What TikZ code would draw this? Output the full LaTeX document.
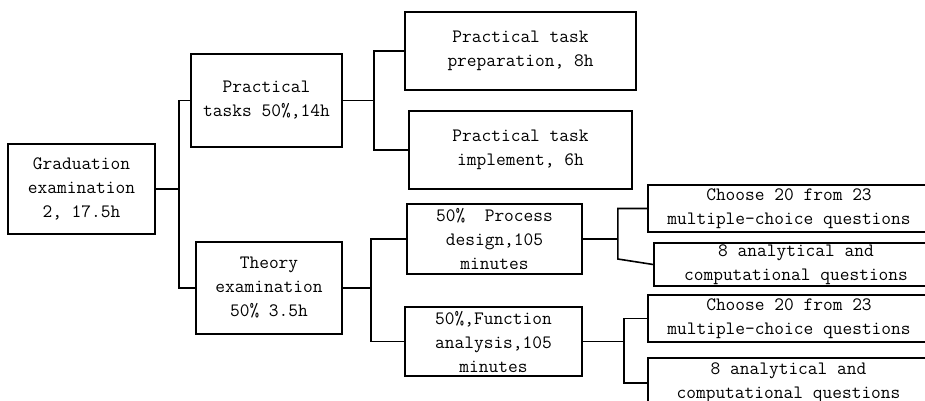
\documentclass[tikz,border=0pt]{standalone}
\usepackage{tikz}

\begin{document}
\begin{tikzpicture}[x=1pt, y=-1pt, line width=1.6pt,
  block/.style={draw, rectangle, align=center, inner sep=0pt, font=\ttfamily\fontsize{18.9}{24}\selectfont}]

\useasboundingbox (0,0) rectangle (925,400);

\node [block, minimum width=147pt, minimum height=90pt] (grad) at (81.5,189) {Graduation\\examination\\2, 17.5h};

\node [block, minimum width=151pt, minimum height=93pt] (prac) at (266.5,100.5) {Practical\\tasks 50\%,14h};

\node [block, minimum width=146pt, minimum height=92pt] (theory) at (269,288) {Theory\\examination\\50\% 3.5h};

\node [block, minimum width=231pt, minimum height=78pt] (prep) at (520.5,51) {Practical task\\preparation, 8h};

\node [block, minimum width=223pt, minimum height=78pt] (impl) at (520.5,150) {Practical task\\implement, 6h};

\node [block, minimum width=175pt, minimum height=70pt] (proc) at (494.5,239) {50\%~~Process\\design,105\\minutes};

\node [block, minimum width=177pt, minimum height=69pt] (func) at (493.5,341.5) {50\%,Function\\analysis,105\\minutes};

\node [block, minimum width=282pt, minimum height=47pt] (mc1) at (789,208.5) {Choose 20 from 23\\multiple-choice questions};

\node [block, minimum width=284pt, minimum height=43pt] (an1) at (796,264.5) {8 analytical and\\computational questions};

\node [block, minimum width=282pt, minimum height=47pt] (mc2) at (789,318.5) {Choose 20 from 23\\multiple-choice questions};

\node [block, minimum width=281pt, minimum height=50pt] (an2) at (788.5,383) {8 analytical and\\computational questions};

\draw (grad.east) -- ++(23,0) coordinate (fork1);
\draw (prac.west) -| (fork1) |- (theory.west);
\draw (prac.east) -- ++(31,0) coordinate (fork2);
\draw (prep.west) -| (fork2) |- (impl.west);
\draw (theory.east) -- ++(28,0) coordinate (fork3);
\draw (proc.west) -| (fork3) |- (func.west);
\draw (proc.east) -- ++(35,0) coordinate (fork4);
\draw (mc1.west) -| (fork4) -- ++(0,20) -- (an1.west);
\draw (func.east) -- ++(41,0) coordinate (fork5);
\draw (mc2.west) -| (fork5) |- (an2.west);

\end{tikzpicture}
\end{document}
